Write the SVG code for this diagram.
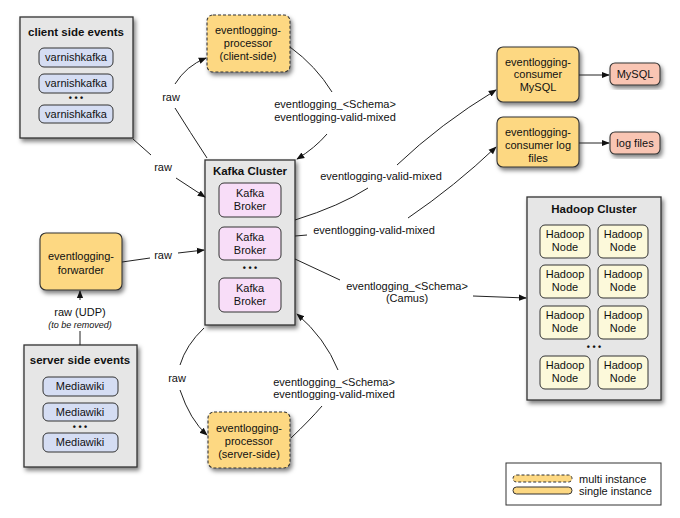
<svg xmlns="http://www.w3.org/2000/svg" width="680" height="518" viewBox="0 0 680 518">
<defs>
<filter id="sh" x="-10%" y="-10%" width="130%" height="130%"><feDropShadow dx="2" dy="3" stdDeviation="2" flood-color="#000" flood-opacity="0.5"/></filter>
<marker id="ar" viewBox="0 0 10 10" refX="9" refY="5" markerWidth="8" markerHeight="8" orient="auto" markerUnits="userSpaceOnUse"><path d="M0,1 L10,5 L0,9 Z" fill="#111"/></marker>
<style>
text{font-family:"Liberation Sans",Arial,sans-serif;font-size:11px;fill:#111;text-anchor:middle}
.b{font-weight:bold;font-size:11.5px}
.cl{fill:#e6e6e6;stroke:#333;stroke-width:1.3;filter:url(#sh)}
.bl{fill:#d5ddf3;stroke:#333;stroke-width:1}
.or{fill:#fdd882;stroke:#333;stroke-width:1.1;filter:url(#sh)}
.ds{stroke-dasharray:3 2}
.pk{fill:#f8ddf8;stroke:#333;stroke-width:1}
.sa{fill:#f9c5b3;stroke:#333;stroke-width:1.1;filter:url(#sh)}
.ye{fill:#fcf9da;stroke:#333;stroke-width:1}
.c{fill:none;stroke:#222;stroke-width:1}
.dots{font-weight:bold;font-size:9px}
.it{font-style:italic;font-size:9px}
</style>
</defs>
<rect width="680" height="518" fill="#fff"/>

<g id="client-side-events">
<rect class="cl" x="20" y="17" width="113" height="121"/>
<text class="b" x="76" y="36">client side events</text>
<rect class="bl" x="39" y="48" width="74" height="19" rx="5"/><text x="76" y="61">varnishkafka</text>
<rect class="bl" x="39" y="74" width="74" height="19" rx="5"/><text x="76" y="87">varnishkafka</text>
<text class="dots" x="76" y="101">• • •</text>
<rect class="bl" x="39" y="105" width="74" height="18" rx="5"/><text x="76" y="118">varnishkafka</text>
</g>

<g id="processor-client">
<rect class="or ds" x="207" y="15" width="83" height="57" rx="6"/>
<text x="248" y="34">eventlogging-</text>
<text x="248" y="47">processor</text>
<text x="248" y="60">(client-side)</text>
</g>

<g id="kafka-cluster">
<rect class="cl" x="205" y="160" width="90" height="165"/>
<text class="b" x="250" y="175">Kafka Cluster</text>
<rect class="pk" x="219" y="183" width="62" height="34" rx="5"/><text x="250" y="197">Kafka</text><text x="250" y="210">Broker</text>
<rect class="pk" x="219" y="227" width="62" height="33" rx="5"/><text x="250" y="241">Kafka</text><text x="250" y="254">Broker</text>
<text class="dots" x="250" y="271">• • •</text>
<rect class="pk" x="219" y="278" width="62" height="34" rx="5"/><text x="250" y="292">Kafka</text><text x="250" y="305">Broker</text>
</g>

<g id="consumer-mysql">
<rect class="or" x="497" y="47" width="82" height="55" rx="6"/>
<text x="538" y="66">eventlogging-</text>
<text x="538" y="78">consumer</text>
<text x="538" y="91">MySQL</text>
</g>
<g id="mysql">
<rect class="sa" x="610" y="63" width="50" height="22" rx="5"/>
<text x="635" y="78">MySQL</text>
</g>
<g id="consumer-log">
<rect class="or" x="497" y="117" width="82" height="50" rx="6"/>
<text x="538" y="136">eventlogging-</text>
<text x="538" y="149">consumer log</text>
<text x="538" y="162">files</text>
</g>
<g id="log-files">
<rect class="sa" x="610" y="132" width="50" height="22" rx="5"/>
<text x="635" y="147">log files</text>
</g>

<g id="hadoop-cluster">
<rect class="cl" x="527" y="197" width="134" height="203"/>
<text class="b" x="594" y="213">Hadoop Cluster</text>
<rect class="ye" x="540" y="225" width="50" height="33" rx="5"/><text x="565" y="238">Hadoop</text><text x="565" y="251">Node</text>
<rect class="ye" x="598" y="225" width="50" height="33" rx="5"/><text x="623" y="238">Hadoop</text><text x="623" y="251">Node</text>
<rect class="ye" x="540" y="265" width="50" height="33" rx="5"/><text x="565" y="278">Hadoop</text><text x="565" y="291">Node</text>
<rect class="ye" x="598" y="265" width="50" height="33" rx="5"/><text x="623" y="278">Hadoop</text><text x="623" y="291">Node</text>
<rect class="ye" x="540" y="306" width="50" height="33" rx="5"/><text x="565" y="319">Hadoop</text><text x="565" y="332">Node</text>
<rect class="ye" x="598" y="306" width="50" height="33" rx="5"/><text x="623" y="319">Hadoop</text><text x="623" y="332">Node</text>
<text class="dots" x="594" y="350">• • •</text>
<rect class="ye" x="540" y="356" width="50" height="33" rx="5"/><text x="565" y="369">Hadoop</text><text x="565" y="382">Node</text>
<rect class="ye" x="598" y="356" width="50" height="33" rx="5"/><text x="623" y="369">Hadoop</text><text x="623" y="382">Node</text>
</g>

<g id="forwarder">
<rect class="or" x="40" y="233" width="82" height="57" rx="6"/>
<text x="81" y="260">eventlogging-</text>
<text x="81" y="274">forwarder</text>
</g>

<g id="server-side-events">
<rect class="cl" x="24" y="345" width="113" height="122"/>
<text class="b" x="80" y="364">server side events</text>
<rect class="bl" x="43" y="377" width="75" height="19" rx="5"/><text x="80" y="390">Mediawiki</text>
<rect class="bl" x="43" y="403" width="75" height="18" rx="5"/><text x="80" y="416">Mediawiki</text>
<text class="dots" x="80" y="430">• • •</text>
<rect class="bl" x="43" y="433" width="75" height="19" rx="5"/><text x="80" y="446">Mediawiki</text>
</g>

<g id="processor-server">
<rect class="or ds" x="208" y="412" width="82" height="56" rx="6"/>
<text x="249" y="432">eventlogging-</text>
<text x="249" y="445">processor</text>
<text x="249" y="458">(server-side)</text>
</g>

<g id="legend">
<rect x="506" y="463" width="155" height="42" fill="#fff" stroke="#333" stroke-width="1"/>
<rect x="513" y="475" width="59" height="7" rx="3.5" fill="#fdd882" stroke="#333" stroke-width="1" stroke-dasharray="3 2"/>
<rect x="513" y="487" width="59" height="7" rx="3.5" fill="#fdd882" stroke="#333" stroke-width="1"/>
<text x="579" y="483" style="text-anchor:start">multi instance</text>
<text x="579" y="495" style="text-anchor:start">single instance</text>
</g>

<g id="connectors">
<path class="c" d="M133,139 L151,155"/>
<text x="163" y="171">raw</text>
<path class="c" d="M176,178 L205,197" marker-end="url(#ar)"/>

<path class="c" d="M207,158 Q190,132 175,108"/>
<text x="171" y="101">raw</text>
<path class="c" d="M175,84 Q186,66 206,58" marker-end="url(#ar)"/>

<path class="c" d="M290,47 Q316,66 332,92"/>
<text x="335" y="108">eventlogging_&lt;Schema&gt;</text>
<text x="335" y="121">eventlogging-valid-mixed</text>
<path class="c" d="M327,134 Q315,148 297,159" marker-end="url(#ar)"/>

<path class="c" d="M122,262 L150,258"/>
<text x="163" y="259">raw</text>
<path class="c" d="M178,253 L204,250" marker-end="url(#ar)"/>

<path class="c" d="M80,345 L80,331"/>
<text x="80" y="316">raw (UDP)</text>
<text class="it" x="80" y="328">(to be removed)</text>
<path class="c" d="M80,300 L80,291" marker-end="url(#ar)"/>

<path class="c" d="M295,220 Q340,206 368,188"/>
<text x="381" y="180">eventlogging-valid-mixed</text>
<path class="c" d="M397,165 Q440,124 496,90" marker-end="url(#ar)"/>

<path class="c" d="M295,236 L307,235"/>
<text x="374" y="234">eventlogging-valid-mixed</text>
<path class="c" d="M408,218 Q455,186 496,147" marker-end="url(#ar)"/>

<path class="c" d="M295,259 L340,280"/>
<text x="407" y="290">eventlogging_&lt;Schema&gt;</text>
<text x="407" y="302">(Camus)</text>
<path class="c" d="M473,296 L526,298" marker-end="url(#ar)"/>

<path class="c" d="M579,75 L609,75" marker-end="url(#ar)"/>
<path class="c" d="M579,143 L609,143" marker-end="url(#ar)"/>

<path class="c" d="M204,328 Q186,345 180,365"/>
<text x="177" y="382">raw</text>
<path class="c" d="M180,390 Q190,420 207,435" marker-end="url(#ar)"/>

<path class="c" d="M291,438 Q310,420 322,406"/>
<text x="334" y="386">eventlogging_&lt;Schema&gt;</text>
<text x="334" y="398">eventlogging-valid-mixed</text>
<path class="c" d="M338,370 Q325,338 297,314" marker-end="url(#ar)"/>
</g>
</svg>
